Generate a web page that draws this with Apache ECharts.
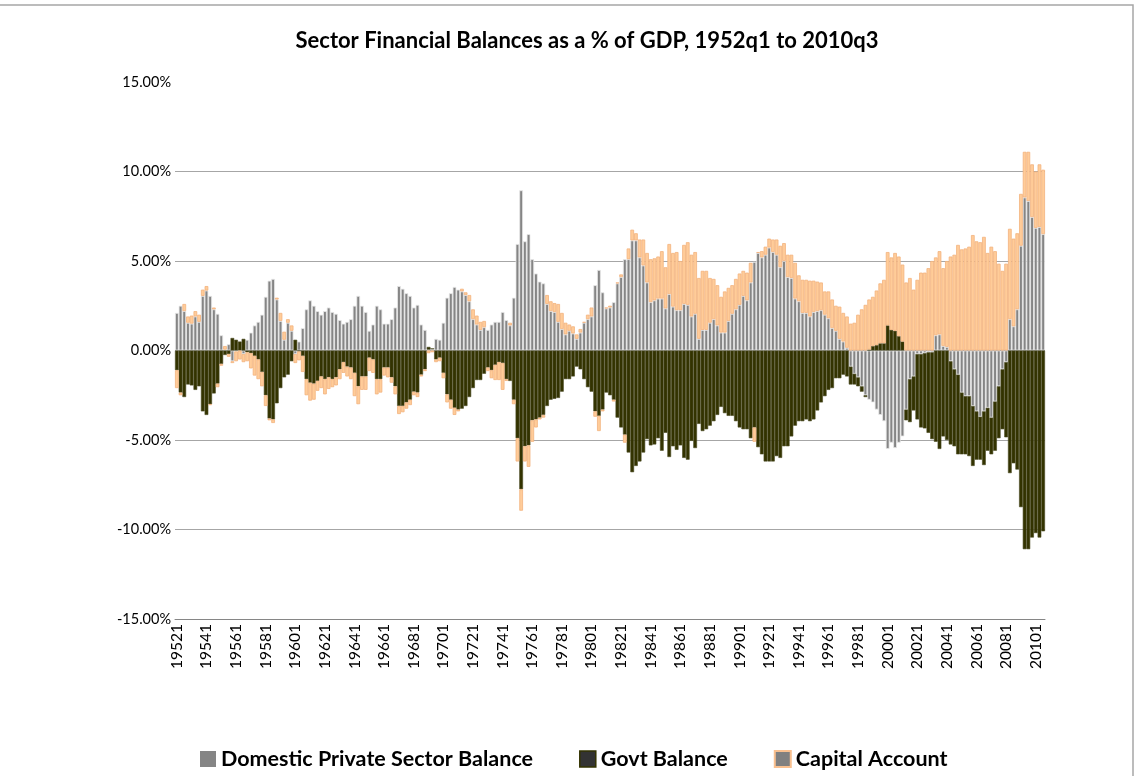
<!DOCTYPE html>
<html>
<head>
<meta charset="utf-8">
<title>Sector Financial Balances</title>
<script src="https://cdn.jsdelivr.net/npm/echarts@6/dist/echarts.min.js"></script>
<style>
  html, body { margin: 0; padding: 0; background: #fff; }
  #chart { width: 1135px; height: 776px; }
</style>
</head>
<body>
<div id="chart"></div>
<script>
// quarters 1952q1 .. 2010q3, label = year + quarter number
var quarters = [];
for (var y = 1952; y <= 2010; y++) {
    for (var q = 1; q <= 4; q++) {
        if (y === 2010 && q > 3) break;
        quarters.push('' + y + q);
    }
}

// % of GDP, two years per row
var privateBal = [
    2.1, 2.5, 2.2, 1.55, 1.5, 1.9, 1.6, 3.05,          // 1952-53
    3.35, 3.05, 2.3, 2.05, 0.85, 0.05, 0.35, -0.6,     // 1954-55
    -0.05, 0.0, -0.2, 0.6, 1.0, 1.4, 1.6, 2.0,         // 1956-57
    3.0, 3.9, 4.0, 2.85, 1.65, 0.6, 1.55, 1.1,         // 1958-59
    -0.2, 0.5, 1.25, 2.3, 2.8, 2.5, 2.2, 2.0,          // 1960-61
    2.2, 2.4, 2.15, 2.05, 1.7, 1.5, 1.6, 1.75,         // 1962-63
    2.5, 3.05, 2.5, 2.15, 1.1, 1.45, 2.5, 2.3,         // 1964-65
    1.5, 1.5, 1.75, 2.4, 3.6, 3.45, 3.2, 3.05,         // 1966-67
    2.4, 2.55, 1.45, 1.15, 0.05, 0.1, 0.65, 0.6,       // 1968-69
    1.55, 2.95, 3.2, 3.55, 3.4, 3.3, 3.1, 2.75,        // 1970-71
    1.75, 1.45, 1.15, 1.3, 1.15, 1.45, 1.6, 1.6,       // 1972-73
    2.15, 1.7, 1.4, 2.95, 5.95, 8.95, 6.1, 6.5,        // 1974-75
    5.1, 4.3, 3.85, 3.75, 2.6, 2.2, 2.15, 1.6,         // 1976-77
    1.2, 0.9, 1.1, 0.95, 0.65, 1.0, 1.55, 1.75,        // 1978-79
    1.9, 3.65, 4.5, 3.25, 2.35, 2.4, 2.7, 3.75,        // 1980-81
    4.1, 5.1, 5.1, 6.15, 6.15, 5.2, 4.75, 3.8,         // 1982-83
    2.7, 2.8, 2.9, 2.9, 2.35, 3.15, 2.45, 2.25,        // 1984-85
    2.25, 2.6, 2.55, 1.9, 2.05, 0.65, 1.15, 1.15,      // 1986-87
    1.55, 1.75, 1.4, 1.0, 1.0, 1.65, 2.05, 2.3,        // 1988-89
    2.55, 3.05, 2.8, 3.8, 4.95, 5.45, 5.2, 5.35,       // 1990-91
    5.75, 5.5, 5.35, 4.65, 5.0, 4.1, 4.05, 2.9,        // 1992-93
    2.75, 2.1, 2.1, 1.9, 2.15, 2.2, 2.25, 2.0,         // 1994-95
    1.8, 1.25, 1.1, 0.65, 0.5, 0.15, -0.9, -1.3,       // 1996-97
    -1.5, -2.0, -2.5, -2.75, -2.9, -3.3, -3.6, -3.95,  // 1998-99
    -5.5, -5.15, -5.45, -5.15, -4.8, -3.3, -1.6, -1.45,// 2000-01
    -0.2, -0.2, -0.15, -0.1, -0.1, 0.85, 0.9, 0.25,    // 2002-03
    0.2, -0.6, -1.05, -1.35, -2.35, -2.55, -2.55, -3.1,// 2004-05
    -3.4, -3.7, -3.4, -3.2, -3.75, -2.85, -2.0, -1.05, // 2006-07
    -0.65, 1.75, 1.35, 2.3, 5.85, 8.55, 8.35, 7.45,    // 2008-09
    6.85, 6.9, 6.5                                     // 2010
];

var govtBal = [
    -1.1, -2.35, -2.6, -1.9, -1.95, -2.2, -2.0, -3.4,
    -3.6, -3.0, -2.4, -1.85, -0.75, -0.25, -0.2, 0.7,
    0.6, 0.5, 0.65, -0.1, -0.15, -0.3, -0.5, -1.2,
    -2.5, -3.8, -3.85, -2.95, -2.1, -1.5, -1.35, -0.6,
    0.6, -0.05, -0.3, -1.6, -1.8, -1.85, -1.7, -1.45,
    -1.6, -1.5, -1.6, -1.5, -1.05, -0.65, -0.9, -0.95,
    -1.25, -2.0, -1.45, -1.45, -0.4, -0.5, -1.6, -1.6,
    -0.95, -0.95, -1.5, -2.0, -3.1, -3.1, -2.9, -2.75,
    -2.3, -2.35, -1.35, -1.05, 0.15, 0.0, -0.5, -0.4,
    -1.25, -2.45, -2.75, -3.2, -3.3, -3.25, -3.1, -2.6,
    -2.1, -1.65, -1.65, -1.3, -0.95, -1.1, -0.8, -0.65,
    -0.7, -1.6, -1.7, -2.75, -4.9, -7.75, -5.35, -5.3,
    -3.9, -3.85, -3.75, -3.6, -3.1, -2.75, -2.7, -2.65,
    -2.3, -1.6, -1.6, -1.45, -0.9, -1.05, -1.6, -2.05,
    -2.3, -3.4, -3.65, -3.3, -2.35, -2.5, -2.75, -3.75,
    -4.3, -4.7, -5.7, -6.8, -6.45, -6.2, -5.7, -4.95,
    -5.3, -5.25, -4.9, -5.6, -4.6, -5.95, -5.35, -5.55,
    -5.3, -6.0, -6.1, -5.05, -5.45, -4.1, -4.5, -4.4,
    -4.2, -3.95, -3.6, -3.15, -3.5, -3.65, -3.65, -3.95,
    -4.3, -4.4, -4.4, -4.9, -4.3, -5.4, -5.8, -6.2,
    -6.2, -6.2, -5.9, -6.0, -5.35, -5.35, -4.8, -4.2,
    -3.95, -3.95, -3.85, -3.95, -3.85, -3.35, -2.9, -2.55,
    -2.2, -2.1, -1.55, -1.55, -1.35, -1.45, -1.0, -0.6,
    -0.5, -0.3, -0.1, 0.05, 0.25, 0.3, 0.4, 0.4,
    1.4, 1.15, 1.1, 0.8, 0.5, -0.6, -2.4, -1.9,
    -3.65, -4.1, -4.2, -4.5, -4.85, -5.1, -5.5, -4.8,
    -5.0, -4.65, -4.3, -4.45, -3.45, -3.25, -3.35, -3.35,
    -2.7, -2.4, -3.0, -2.4, -2.05, -2.75, -2.9, -3.35,
    -4.2, -6.85, -6.3, -6.65, -8.75, -11.1, -11.1, -10.45,
    -10.2, -10.45, -10.1
];

var capitalAcct = [
    -1.0, -0.15, 0.4, 0.35, 0.45, 0.3, 0.4, 0.35,
    0.25, -0.05, 0.1, -0.2, -0.1, 0.2, -0.15, -0.1,
    -0.55, -0.5, -0.45, -0.5, -0.85, -1.1, -1.1, -0.8,
    -0.6, -0.1, -0.2, 0.1, 0.45, 0.45, 0.2, 0.3,
    -0.5, -0.5, -0.9, -0.9, -1.0, -0.9, -0.55, -0.65,
    -0.85, -0.65, -0.45, -0.45, -0.55, -0.6, -0.55, -0.65,
    -1.3, -1.0, -0.75, -0.75, -0.75, -0.75, -0.85, -0.75,
    -0.45, -0.55, -0.3, -0.45, -0.45, -0.35, -0.35, -0.3,
    -0.2, -0.25, -0.1, -0.1, -0.15, -0.1, -0.15, -0.2,
    -0.3, -0.45, -0.5, -0.4, -0.1, 0.15, 0.15, 0.35,
    0.55, 0.5, 0.45, 0.35, -0.2, -0.45, -0.85, -1.0,
    -1.5, -0.1, 0.15, -0.25, -1.3, -1.2, -0.85, -1.2,
    -1.2, -0.45, -0.1, -0.15, 0.5, 0.55, 0.5, 1.0,
    0.9, 0.65, 0.35, 0.4, 0.25, 0.2, 0.05, 0.25,
    0.5, -0.3, -0.85, -0.1, 0.05, 0.1, -0.1, 0.05,
    0.15, -0.45, 0.6, 0.6, 0.4, 1.0, 1.45, 1.65,
    2.4, 2.35, 2.35, 2.65, 2.3, 2.8, 3.0, 3.25,
    2.75, 3.3, 3.5, 3.45, 3.45, 3.4, 3.3, 3.3,
    2.5, 2.25, 2.25, 2.0, 2.3, 1.85, 1.6, 1.7,
    1.75, 1.4, 1.55, 1.1, -0.8, 0.05, 0.35, 0.45,
    0.5, 0.7, 0.85, 1.2, 1.0, 1.25, 1.3, 2.0,
    1.45, 1.85, 1.85, 2.0, 1.75, 1.65, 1.55, 1.3,
    1.5, 1.6, 1.4, 1.8, 1.6, 1.75, 1.5, 1.55,
    2.0, 2.3, 2.55, 2.8, 2.75, 3.05, 3.35, 3.55,
    4.1, 4.05, 4.35, 4.45, 4.3, 3.8, 4.05, 3.4,
    3.95, 4.35, 4.35, 4.6, 5.0, 4.35, 4.65, 4.35,
    4.8, 5.25, 5.35, 5.9, 5.65, 5.7, 5.8, 6.45,
    6.1, 6.05, 6.35, 5.45, 5.8, 5.55, 4.85, 4.45,
    4.85, 5.05, 4.9, 4.25, 2.9, 2.55, 2.75, 2.95,
    3.15, 3.5, 3.6
];

var yTicks = [-15, -10, -5, 0, 5, 10, 15];

var font = 'Lato, "Open Sans", sans-serif';
var chart = echarts.init(document.getElementById('chart'));

chart.setOption({
    animation: false,
    backgroundColor: '#fff',
    title: {
        text: 'Sector Financial Balances as a % of GDP, 1952q1 to 2010q3',
        left: 582,
        textAlign: 'center',
        top: 25,
        textStyle: { fontFamily: font, fontSize: 22, fontWeight: 'bold', color: '#000' }
    },
    legend: {
        left: 195,
        top: 743,
        itemWidth: 16,
        itemHeight: 16,
        itemGap: 46,
        textStyle: { fontFamily: font, fontSize: 21.5, fontWeight: 'bold', color: '#000' },
        data: [
            { name: 'Domestic Private Sector Balance', icon: 'rect', itemStyle: { color: '#858585', borderWidth: 0 } },
            { name: 'Govt Balance', icon: 'rect', itemStyle: { color: '#333333', borderColor: '#333300', borderWidth: 1.5 } },
            { name: 'Capital Account', icon: 'rect', itemStyle: { color: '#808080', borderColor: '#f9c08f', borderWidth: 2 } }
        ]
    },
    graphic: [{
        type: 'rect',
        silent: true,
        shape: { x: -1, y: 5, width: 1134, height: 800 },
        style: { fill: 'none', stroke: '#a6a6a6', lineWidth: 1.5 }
    }],
    grid: { left: 175, right: 90, top: 82, bottom: 157 },
    xAxis: {
        type: 'category',
        data: quarters,
        axisLine: { onZero: false, lineStyle: { color: '#868686' } },
        axisTick: { interval: 7, length: 4, lineStyle: { color: '#868686' } },
        axisLabel: {
            interval: 7, rotate: 90, margin: 5,
            fontFamily: font, fontSize: 15.5, color: '#000'
        }
    },
    yAxis: {
        type: 'value',
        min: yTicks[0],
        max: yTicks[yTicks.length - 1],
        interval: 5,
        axisLine: { show: false },
        axisTick: { show: false },
        axisLabel: {
            margin: 4, fontFamily: font, fontSize: 14.5, color: '#000',
            formatter: function (v) { return v.toFixed(2) + '%'; }
        },
        splitLine: { showMaxLine: false, lineStyle: { color: '#a6a6a6', width: 1 } }
    },
    series: [
        {
            name: 'Domestic Private Sector Balance',
            type: 'bar', stack: 'bal', barCategoryGap: '0%',
            data: privateBal,
            itemStyle: { color: '#858585', borderColor: '#e8e8e8', borderWidth: 0.8 }
        },
        {
            name: 'Govt Balance',
            type: 'bar', stack: 'bal', barCategoryGap: '0%',
            data: govtBal,
            itemStyle: { color: '#333300', borderColor: '#4a4a22', borderWidth: 0.6 }
        },
        {
            name: 'Capital Account',
            type: 'bar', stack: 'bal', barCategoryGap: '0%',
            data: capitalAcct,
            itemStyle: { color: '#ffcc99', borderColor: '#f2b27e', borderWidth: 0.8 }
        }
    ]
});
</script>
</body>
</html>
